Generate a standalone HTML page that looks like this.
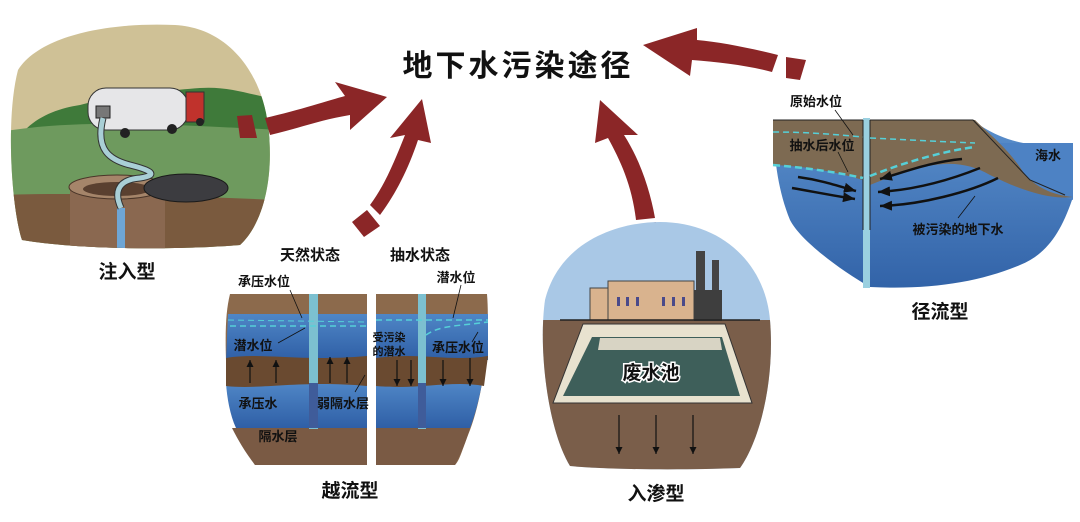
<!DOCTYPE html>
<html><head><meta charset="utf-8"><style>
html,body{margin:0;padding:0;background:#fff;width:1080px;height:522px;overflow:hidden}
svg{display:block}
text{font-family:"Liberation Sans","Noto Sans CJK SC",sans-serif;fill:#111}
</style></head><body>
<svg width="1080" height="522" viewBox="0 0 1080 522" xmlns="http://www.w3.org/2000/svg">
<defs>
<clipPath id="c1"><path d="M18,70 C40,35 110,22 175,25 C230,28 262,75 268,125 C275,180 262,225 240,245 C180,250 80,250 22,240 C12,210 5,120 18,70Z"/></clipPath>
<clipPath id="c3"><path d="M545,300 C560,240 620,222 660,222 C720,222 765,262 770,320 C775,380 760,440 740,468 C690,470 610,470 570,466 C548,430 538,350 545,300Z"/></clipPath>
<linearGradient id="bl" x1="0" y1="0" x2="0" y2="1"><stop offset="0" stop-color="#4f86c6"/><stop offset="1" stop-color="#2f5fa6"/></linearGradient>
<linearGradient id="sea" x1="0" y1="0" x2="0" y2="1"><stop offset="0" stop-color="#5a8fcc"/><stop offset="1" stop-color="#3263a8"/></linearGradient>
<marker id="ah" markerUnits="userSpaceOnUse" markerWidth="8" markerHeight="8" refX="7" refY="3.5" orient="auto"><path d="M0,0 L7,3.5 L0,7Z" fill="#111"/></marker>
<marker id="ah2" markerUnits="userSpaceOnUse" markerWidth="14" markerHeight="12" refX="12" refY="5" orient="auto"><path d="M0,0 L12,5 L0,10Z" fill="#111"/></marker>
</defs>

<!-- Scene 1 -->
<g clip-path="url(#c1)">
<rect x="0" y="0" width="280" height="250" fill="#cfc196"/>
<path d="M25,130 C40,115 60,108 80,105 C120,95 150,92 200,88 C230,86 250,95 280,100 L280,140 L25,140Z" fill="#3f7a3a"/>
<path d="M0,132 C80,118 180,125 280,130 L280,250 L0,250Z" fill="#6e9a5e"/>
<path d="M0,195 C80,192 180,196 280,200 L280,250 L0,250Z" fill="#7a5a3e"/>
<rect x="70" y="187" width="95" height="63" fill="#8a6850"/>
<ellipse cx="117" cy="187" rx="48" ry="12" fill="#a5856a" stroke="#4a3528"/>
<ellipse cx="117" cy="189" rx="34" ry="7" fill="#5a4030"/>
<rect x="117" y="208" width="8" height="40" fill="#6ea6d6"/>
<ellipse cx="186" cy="188" rx="42" ry="14" fill="#3c3c40" stroke="#1a1a1a"/>
<rect x="88" y="88" width="100" height="42" rx="18" fill="#e6e6e8" stroke="#333"/>
<rect x="186" y="92" width="18" height="30" fill="#c0322c" stroke="#333"/>
<circle cx="125" cy="133" r="5" fill="#222"/><circle cx="172" cy="129" r="5" fill="#222"/><circle cx="200" cy="122" r="4" fill="#222"/>
<rect x="96" y="106" width="14" height="12" fill="#777" stroke="#222"/>
<path d="M103,118 C95,150 110,160 130,165 C150,170 160,175 140,178 C115,180 115,195 121,208" fill="none" stroke="#333" stroke-width="7"/>
<path d="M103,118 C95,150 110,160 130,165 C150,170 160,175 140,178 C115,180 115,195 121,208" fill="none" stroke="#a9cfd6" stroke-width="5"/>
</g>
<text x="127" y="278" font-size="19" font-weight="bold" text-anchor="middle">注入型</text>

<text x="518" y="76" font-size="30" font-weight="bold" text-anchor="middle" letter-spacing="3">地下水污染途径</text>

<g fill="#8b2627">
<path d="M237,116 L252,115 L257,138 L240,138Z"/>
<path d="M265,118 C300,110 330,100 345,96 L335,82 L387,97 L350,130 L350,115 C320,120 300,128 270,135Z"/>
<path d="M352,222 L367,210 L380,226 L364,237Z"/>
<path d="M370,205 C385,185 395,160 405,135 L390,138 L422,99 L431,143 L418,140 C408,170 395,195 380,215Z"/>
<path d="M636,226 L656,222 L657,245 L639,245Z"/>
<path d="M636,220 C632,185 620,160 608,138 L595,143 L600,100 L638,135 L624,135 C640,160 650,190 655,218Z"/>
<path d="M786,57 L806,60 L800,80 L786,78Z"/>
<path d="M778,55 C750,48 720,42 697,40 L697,28 L643,45 L690,76 L692,60 C720,62 750,66 772,72Z"/>
</g>

<!-- Scene 2 -->
<text x="310" y="260" font-size="15" font-weight="bold" text-anchor="middle">天然状态</text>
<text x="420" y="260" font-size="15" font-weight="bold" text-anchor="middle">抽水状态</text>
<g>
<path d="M230,294 L367,294 L367,465 L255,465 C240,440 228,400 226,360 C225,330 226,310 230,294Z" fill="#8c6a4c"/>
<path d="M228,314 L367,314 L367,360 L226,360Z" fill="url(#bl)"/>
<path d="M226,383 L367,383 L367,428 L236,428 C230,415 227,398 226,383Z" fill="url(#bl)"/>
<path d="M226,358 C260,352 300,362 367,356 L367,386 C300,380 260,390 226,386Z" fill="#6a4a30"/>
<path d="M232,428 L367,428 L367,465 L255,465 C245,452 238,440 232,428Z" fill="#7a5a44"/>
<rect x="309" y="294" width="9" height="135" fill="#7cc0d0"/>
<rect x="309" y="383" width="9" height="45" fill="#3f5c9a"/>
<path d="M230,326 L367,326" stroke="#56d0d8" stroke-width="1.5" stroke-dasharray="6,4"/>
<path d="M228,320 L367,322" stroke="#56d0d8" stroke-width="1" stroke-dasharray="6,4"/>

<path d="M376,294 L487,294 C490,330 485,390 470,430 C462,450 460,460 455,465 L376,465Z" fill="#8c6a4c"/>
<path d="M376,314 L488,314 L488,360 L376,360Z" fill="url(#bl)"/>
<path d="M376,383 L482,383 C479,400 475,415 470,428 L376,428Z" fill="url(#bl)"/>
<path d="M376,358 C420,352 450,362 488,356 L484,386 C450,380 420,390 376,386Z" fill="#6a4a30"/>
<path d="M376,428 L470,428 C465,445 460,455 455,465 L376,465Z" fill="#7a5a44"/>
<rect x="418" y="294" width="8" height="135" fill="#7cc0d0"/>
<rect x="418" y="383" width="8" height="45" fill="#3f5c9a"/>
<path d="M376,320 L488,320" stroke="#56d0d8" stroke-width="1.5" stroke-dasharray="6,4"/>
<path d="M426,335 C440,325 460,326 488,322" fill="none" stroke="#56d0d8" stroke-width="1.5" stroke-dasharray="6,4"/>
<path d="M368,294 L376,294 L372,440 L376,470 L368,470Z" fill="#fff"/>
<g stroke="#111" stroke-width="1.2">
<line x1="250" y1="383" x2="250" y2="360" marker-end="url(#ah)"/>
<line x1="276" y1="383" x2="276" y2="360" marker-end="url(#ah)"/>
<line x1="330" y1="383" x2="330" y2="357" marker-end="url(#ah)"/>
<line x1="347" y1="383" x2="347" y2="357" marker-end="url(#ah)"/>
<line x1="397" y1="360" x2="397" y2="386" marker-end="url(#ah)"/>
<line x1="411" y1="360" x2="411" y2="386" marker-end="url(#ah)"/>
<line x1="443" y1="360" x2="443" y2="386" marker-end="url(#ah)"/>
<line x1="470" y1="358" x2="470" y2="386" marker-end="url(#ah)"/>
<line x1="290" y1="290" x2="302" y2="318" stroke-width="0.8"/>
<line x1="278" y1="343" x2="305" y2="328" stroke-width="0.8"/>
<line x1="355" y1="392" x2="365" y2="375" stroke-width="0.8"/>
<line x1="461" y1="285" x2="453" y2="318" stroke-width="0.8"/>
<line x1="472" y1="342" x2="478" y2="332" stroke-width="0.8"/>
</g>
<text x="264" y="286" font-size="13" font-weight="bold" text-anchor="middle">承压水位</text>
<text x="253" y="350" font-size="13" font-weight="bold" text-anchor="middle">潜水位</text>
<text x="258" y="408" font-size="13" font-weight="bold" text-anchor="middle">承压水</text>
<text x="278" y="441" font-size="13" font-weight="bold" text-anchor="middle">隔水层</text>
<text x="343" y="408" font-size="13" font-weight="bold" text-anchor="middle">弱隔水层</text>
<text x="389" y="341" font-size="11" font-weight="bold" text-anchor="middle">受污染</text>
<text x="389" y="355" font-size="11" font-weight="bold" text-anchor="middle">的潜水</text>
<text x="456" y="282" font-size="13" font-weight="bold" text-anchor="middle">潜水位</text>
<text x="458" y="352" font-size="13" font-weight="bold" text-anchor="middle">承压水位</text>
</g>
<text x="350" y="497" font-size="19" font-weight="bold" text-anchor="middle">越流型</text>

<!-- Scene 3 -->
<g clip-path="url(#c3)">
<rect x="530" y="215" width="250" height="260" fill="#a9c8e6"/>
<path d="M530,320 L780,320 L780,475 L530,475Z" fill="#7a5e4a"/>
<rect x="590" y="288" width="22" height="32" fill="#d9b38e" stroke="#444"/>
<rect x="608" y="281" width="86" height="39" fill="#d9b38e" stroke="#444"/>
<g fill="#4a4a8a"><rect x="617" y="297" width="3" height="9"/><rect x="626" y="297" width="3" height="9"/><rect x="636" y="297" width="3" height="9"/><rect x="662" y="297" width="3" height="9"/><rect x="672" y="297" width="3" height="9"/><rect x="682" y="297" width="3" height="9"/></g>
<rect x="696" y="251" width="9" height="70" fill="#444"/>
<rect x="712" y="260" width="7" height="61" fill="#444"/>
<rect x="694" y="290" width="28" height="31" fill="#3e3e3e"/>
<line x1="560" y1="320" x2="760" y2="320" stroke="#222" stroke-width="1.5"/>
<path d="M583,324 L725,324 L752,403 L553,403Z" fill="#e8e2cf" stroke="#333"/>
<path d="M592,337 L722,337 L740,396 L563,396Z" fill="#3e5f5a"/>
<path d="M600,338 L720,338 L722,350 L598,350Z" fill="#d8d4c4"/>
</g>
<g stroke="#111" stroke-width="1.2">
<line x1="619" y1="415" x2="619" y2="454" marker-end="url(#ah)"/>
<line x1="656" y1="415" x2="656" y2="454" marker-end="url(#ah)"/>
<line x1="693" y1="415" x2="693" y2="454" marker-end="url(#ah)"/>
</g>
<text x="651" y="379" font-size="19" font-weight="bold" text-anchor="middle" stroke="#fff" stroke-width="3" paint-order="stroke">废水池</text>
<text x="656" y="500" font-size="19" font-weight="bold" text-anchor="middle">入渗型</text>

<!-- Scene 4 -->
<path d="M773,120 L972,120 C1000,140 1030,150 1073,143 L1072,200 C1060,235 1045,255 1020,265 C980,282 930,290 870,287 C840,270 800,240 790,220 C778,190 774,160 773,120Z" fill="url(#sea)"/>
<path d="M975,143 L1073,143 L1073,200 C1050,192 1030,190 1005,168Z" fill="#4d82c4"/>
<path d="M773,120 L863,120 L863,180 C830,170 800,166 773,165Z" fill="#7d6a52"/>
<path d="M870,120 L975,120 C990,135 1010,150 1025,175 C1040,190 1055,195 1073,197 C1050,200 1020,190 990,175 C960,158 930,160 870,185Z" fill="#7d6a52"/>
<path d="M773,120 L863,120 M870,120 L973,120 L1030,180 L1065,195" fill="none" stroke="#222" stroke-width="1"/>
<rect x="863" y="118" width="7" height="170" fill="#9ad0e0"/>
<line x1="863" y1="120" x2="863" y2="230" stroke="#222"/>
<line x1="870" y1="120" x2="870" y2="230" stroke="#222"/>
<path d="M773,132 C810,132 840,135 863,137 M870,138 C910,140 950,142 975,143" fill="none" stroke="#56d0d8" stroke-width="1.5" stroke-dasharray="6,4"/>
<path d="M773,165 C810,168 840,173 863,178 M870,176 C910,160 950,150 975,147" fill="none" stroke="#56d0d8" stroke-width="2.5" stroke-dasharray="7,4"/>
<g fill="none" stroke="#111" stroke-width="2.5">
<path d="M798,177 C820,180 835,185 856,191" marker-end="url(#ah2)"/>
<path d="M792,188 C815,192 835,196 855,199" marker-end="url(#ah2)"/>
<path d="M962,159 C930,162 905,172 880,179" marker-end="url(#ah2)"/>
<path d="M980,168 C950,180 915,190 878,192" marker-end="url(#ah2)"/>
<path d="M998,178 C970,192 920,205 880,206" marker-end="url(#ah2)"/>
</g>
<g stroke="#111" stroke-width="0.8"><line x1="835" y1="110" x2="853" y2="135"/><line x1="838" y1="152" x2="848" y2="172"/><line x1="975" y1="196" x2="958" y2="218"/></g>
<text x="816" y="106" font-size="13" font-weight="bold" text-anchor="middle">原始水位</text>
<text x="822" y="150" font-size="13" font-weight="bold" text-anchor="middle">抽水后水位</text>
<text x="1048" y="160" font-size="13" font-weight="bold" text-anchor="middle">海水</text>
<text x="958" y="234" font-size="13" font-weight="bold" text-anchor="middle">被污染的地下水</text>
<text x="940" y="318" font-size="19" font-weight="bold" text-anchor="middle">径流型</text>
</svg>
</body></html>
